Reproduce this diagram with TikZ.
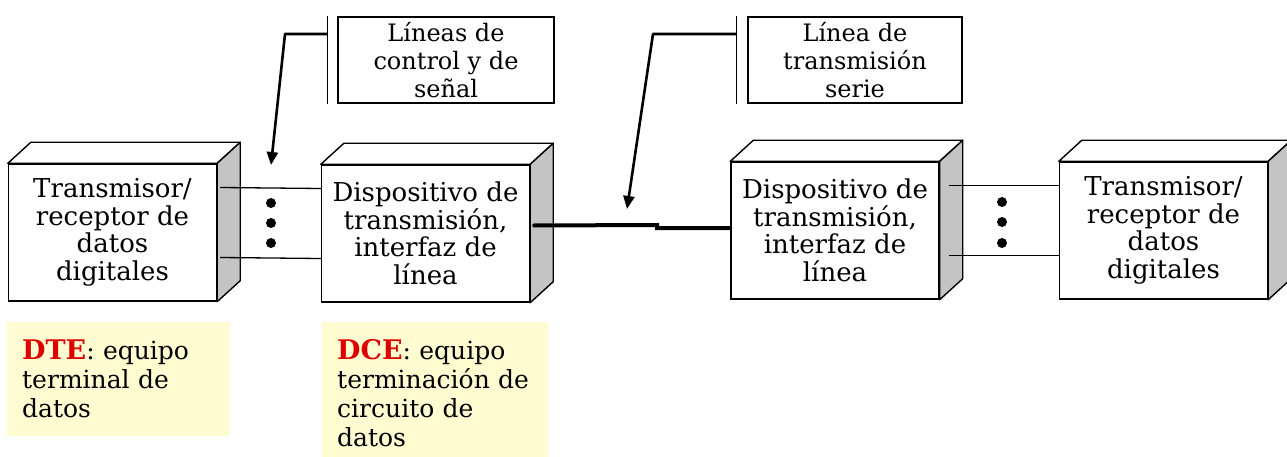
\documentclass[tikz,border=0pt]{standalone}
\usepackage{fontspec}
\setmainfont{DejaVu Serif}
\usetikzlibrary{calc,arrows.meta}
\definecolor{sidegray}{HTML}{C4C4C4}
\definecolor{notebg}{HTML}{FEFCD0}
\definecolor{dtered}{HTML}{DD0000}
\newcommand\cubefaces[1]{%
  \draw[line width=1.4pt, fill=white, line join=round] (#1.north west) -- ++(23,-21) -- ([shift={(23,-21)}]#1.north east) -- (#1.north east) -- cycle;
  \draw[line width=1.4pt, fill=sidegray, line join=round] (#1.north east) -- ([shift={(23,-21)}]#1.north east) -- ([shift={(23,-21)}]#1.south east) -- (#1.south east) -- cycle;}
\begin{document}
\begin{tikzpicture}[x=1pt,y=-1pt,
  box/.style={draw, line width=1.4pt, fill=white, minimum width=208pt, minimum height=137pt, inner sep=0pt, align=center, font=\fontsize{26}{27.5}\selectfont},
  callout/.style={draw, line width=1.4pt, minimum height=86pt, inner sep=0pt, align=center, font=\fontsize{24}{28}\selectfont},
  wire/.style={line width=1.3pt},
  bar/.style={line width=1.4pt},
  pointer/.style={line width=2.6pt, line join=round, -{Triangle[length=13pt,width=11pt]}},
  serial/.style={line width=4pt, line cap=round},
  note/.style={fill=notebg, anchor=north west, inner xsep=15pt, inner ysep=11pt, align=left, font=\fontsize{25}{29}\selectfont},
  dotmark/.style={circle, fill=black, inner sep=0pt, minimum width=9pt, minimum height=10pt}
]
\useasboundingbox (0,0) rectangle (1287,457);

% devices
\node[box] (b1) at (112.5,232.5) {Transmisor/\\receptor de\\datos\\digitales};
\node[box] (b2) at (425.5,233.5) {Dispositivo de\\transmisión,\\interfaz de\\línea};
\node[box] (b3) at (835,230.5) {Dispositivo de\\transmisión,\\interfaz de\\línea};
\node[box] (b4) at (1163.5,230.5) {Transmisor/\\receptor de\\datos\\digitales};
\cubefaces{b1}
\cubefaces{b2}
\cubefaces{b3}
\cubefaces{b4}

% parallel lines with dots
\draw[wire] ($(b1.east)+(3,-45)$) -- ($(b2.west)+(0,-45)$);
\draw[wire] ($(b1.east)+(3,25)$) -- ($(b2.west)+(0,25)$);
\node[dotmark] (p1) at (271,203) {};
\node[dotmark] (p2) at (271,223) {};
\node[dotmark] (p3) at (271,243) {};
\draw[wire] ($(b3.east)+(9,-45)$) -- ($(b4.west)+(0,-45)$);
\draw[wire] ($(b3.east)+(9,25)$) -- ($(b4.west)+(0,25)$);
\node[dotmark] (q1) at (1002,202) {};
\node[dotmark] (q2) at (1002,222) {};
\node[dotmark] (q3) at (1002,243) {};

% serial line
\coordinate (j1) at (657,225);
\coordinate (j2) at (657,228);
\draw[serial] ($(b2.east)+(4,-8)$) -- (j1) -- (j2) -- ($(b3.west)+(0,-2.5)$);

% callouts
\node[callout, minimum width=216pt] (c1) at (446,60) {Líneas de\\control y de\\señal};
\node[callout, minimum width=214pt] (c2) at (855,60) {Línea de\\transmisión\\serie};
\draw[bar] ($(c1.north west)+(-10,0)$) -- ($(c1.south west)+(-10,0)$);
\draw[bar] ($(c2.north west)+(-11,0)$) -- ($(c2.south west)+(-11,0)$);
\coordinate (k1) at (285,34);
\coordinate (t1) at (271,165);
\coordinate (k2) at (653,34);
\coordinate (t2) at (627,209);
\draw[pointer] ($(c1.west)+(-10,-26)$) -- (k1) -- (t1);
\draw[pointer] ($(c2.west)+(-11,-26)$) -- (k2) -- (t2);

% notes
\node[note, text width=193pt, minimum height=114pt] (n1) at (7,322)
  {{\fontsize{27}{29}\selectfont\bfseries\color{dtered}DTE}: equipo\\terminal de\\datos};
\node[note, text width=196pt, minimum height=142pt] (n2) at (322,322)
  {{\fontsize{27}{29}\selectfont\bfseries\color{dtered}DCE}: equipo\\terminación de\\circuito de\\datos};
\end{tikzpicture}
\end{document}
